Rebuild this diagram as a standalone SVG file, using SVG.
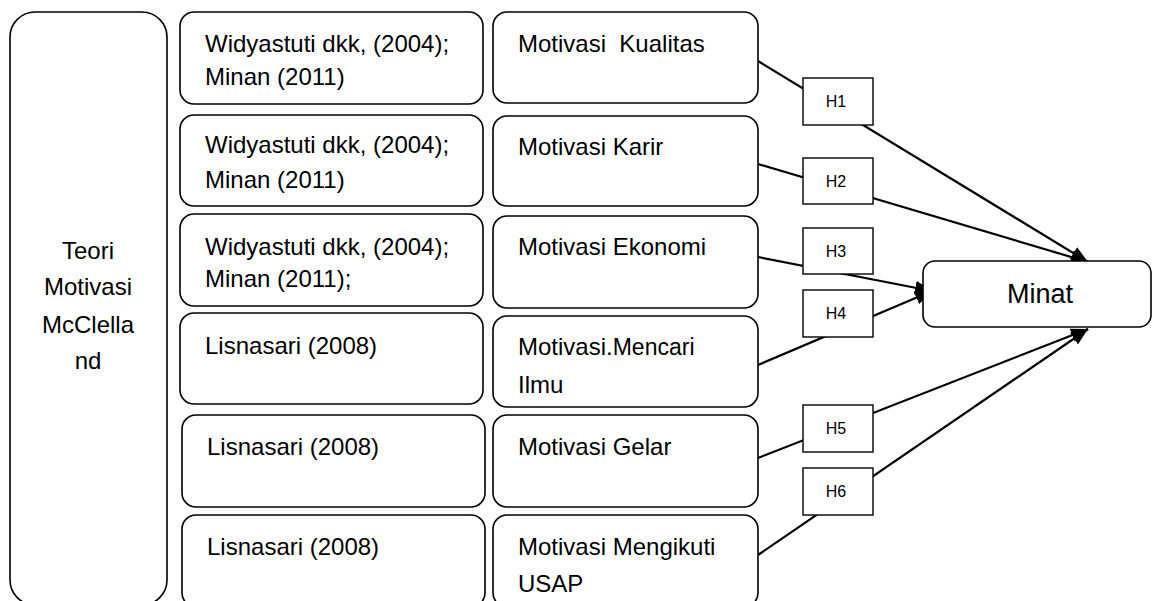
<svg xmlns="http://www.w3.org/2000/svg" width="1152" height="601" viewBox="0 0 1152 601">
<defs>
<style>
.box{fill:#fff;stroke:#000;stroke-width:1.6}
.hb{fill:#fff;stroke:#000;stroke-width:1.4}
.t{font-family:"Liberation Sans",Arial,sans-serif;font-size:24px;fill:#000}
.tc{font-family:"Liberation Sans",Arial,sans-serif;font-size:24px;fill:#000;text-anchor:middle}
.h{font-family:"Liberation Sans",Arial,sans-serif;font-size:16px;fill:#000;text-anchor:middle}
.m{font-family:"Liberation Sans",Arial,sans-serif;font-size:27px;fill:#000;text-anchor:middle}
.c{stroke:#000;stroke-width:2.2;fill:none}
</style>
<marker id="arr" markerUnits="userSpaceOnUse" markerWidth="18" markerHeight="14" refX="17" refY="7" orient="auto">
<path d="M0,0 L17,7 L0,14 z" fill="#000"/>
</marker>
</defs>
<rect width="1152" height="601" fill="#fff"/>
<g id="connectors">
<line class="c" x1="758" y1="61" x2="1088" y2="262" marker-end="url(#arr)"/>
<line class="c" x1="758" y1="164" x2="1088" y2="262" marker-end="url(#arr)"/>
<line class="c" x1="758" y1="257" x2="932" y2="291" marker-end="url(#arr)"/>
<line class="c" x1="758" y1="365" x2="932" y2="291" marker-end="url(#arr)"/>
<line class="c" x1="758" y1="458" x2="1088" y2="329" marker-end="url(#arr)"/>
<line class="c" x1="758" y1="555" x2="1088" y2="329" marker-end="url(#arr)"/>
</g>
<g id="teori">
<rect class="box" x="10" y="12" width="157" height="593" rx="25"/>
<text class="tc" x="88" y="259">Teori</text>
<text class="tc" x="88" y="295">Motivasi</text>
<text class="tc" x="88" y="333">McClella</text>
<text class="tc" x="88" y="369">nd</text>
</g>
<g id="ref1">
<rect class="box" x="180" y="12" width="303" height="92" rx="14"/>
<text class="t" x="205" y="52">Widyastuti dkk, (2004);</text>
<text class="t" x="205" y="85">Minan (2011)</text>
</g>
<g id="ref2">
<rect class="box" x="180" y="115" width="303" height="91" rx="14"/>
<text class="t" x="205" y="153">Widyastuti dkk, (2004);</text>
<text class="t" x="205" y="188">Minan (2011)</text>
</g>
<g id="ref3">
<rect class="box" x="180" y="214" width="303" height="92" rx="14"/>
<text class="t" x="205" y="255">Widyastuti dkk, (2004);</text>
<text class="t" x="205" y="287">Minan (2011);</text>
</g>
<g id="ref4">
<rect class="box" x="180" y="313" width="303" height="91" rx="14"/>
<text class="t" x="205" y="354">Lisnasari (2008)</text>
</g>
<g id="ref5">
<rect class="box" x="182" y="415" width="303" height="92" rx="14"/>
<text class="t" x="207" y="455">Lisnasari (2008)</text>
</g>
<g id="ref6">
<rect class="box" x="182" y="515" width="303" height="92" rx="14"/>
<text class="t" x="207" y="555">Lisnasari (2008)</text>
</g>
<g id="mot1">
<rect class="box" x="493" y="12" width="265" height="91" rx="14"/>
<text class="t" x="518" y="52" xml:space="preserve">Motivasi  Kualitas</text>
</g>
<g id="mot2">
<rect class="box" x="493" y="116" width="265" height="90" rx="14"/>
<text class="t" x="518" y="155">Motivasi Karir</text>
</g>
<g id="mot3">
<rect class="box" x="493" y="216" width="265" height="92" rx="14"/>
<text class="t" x="518" y="255">Motivasi Ekonomi</text>
</g>
<g id="mot4">
<rect class="box" x="493" y="316" width="265" height="91" rx="14"/>
<text class="t" x="518" y="355">Motivasi.<tspan font-size="23">Mencari</tspan></text>
<text class="t" x="518" y="393">Ilmu</text>
</g>
<g id="mot5">
<rect class="box" x="493" y="415" width="265" height="92" rx="14"/>
<text class="t" x="518" y="455">Motivasi Gelar</text>
</g>
<g id="mot6">
<rect class="box" x="493" y="515" width="265" height="92" rx="14"/>
<text class="t" x="518" y="555">Motivasi Mengikuti</text>
<text class="t" x="518" y="592">USAP</text>
</g>
<g id="h1"><rect class="hb" x="803" y="78" width="70" height="47"/><text class="h" x="836" y="107">H1</text></g>
<g id="h2"><rect class="hb" x="803" y="158" width="70" height="46"/><text class="h" x="836" y="187">H2</text></g>
<g id="h3"><rect class="hb" x="803" y="228" width="70" height="46"/><text class="h" x="836" y="257">H3</text></g>
<g id="h4"><rect class="hb" x="803" y="290" width="70" height="47"/><text class="h" x="836" y="319">H4</text></g>
<g id="h5"><rect class="hb" x="803" y="405" width="70" height="47"/><text class="h" x="836" y="434">H5</text></g>
<g id="h6"><rect class="hb" x="803" y="468" width="70" height="47"/><text class="h" x="836" y="497">H6</text></g>
<g id="minat">
<rect class="box" x="923" y="261" width="228" height="66" rx="12"/>
<text class="m" x="1040" y="303">Minat</text>
</g>
</svg>
